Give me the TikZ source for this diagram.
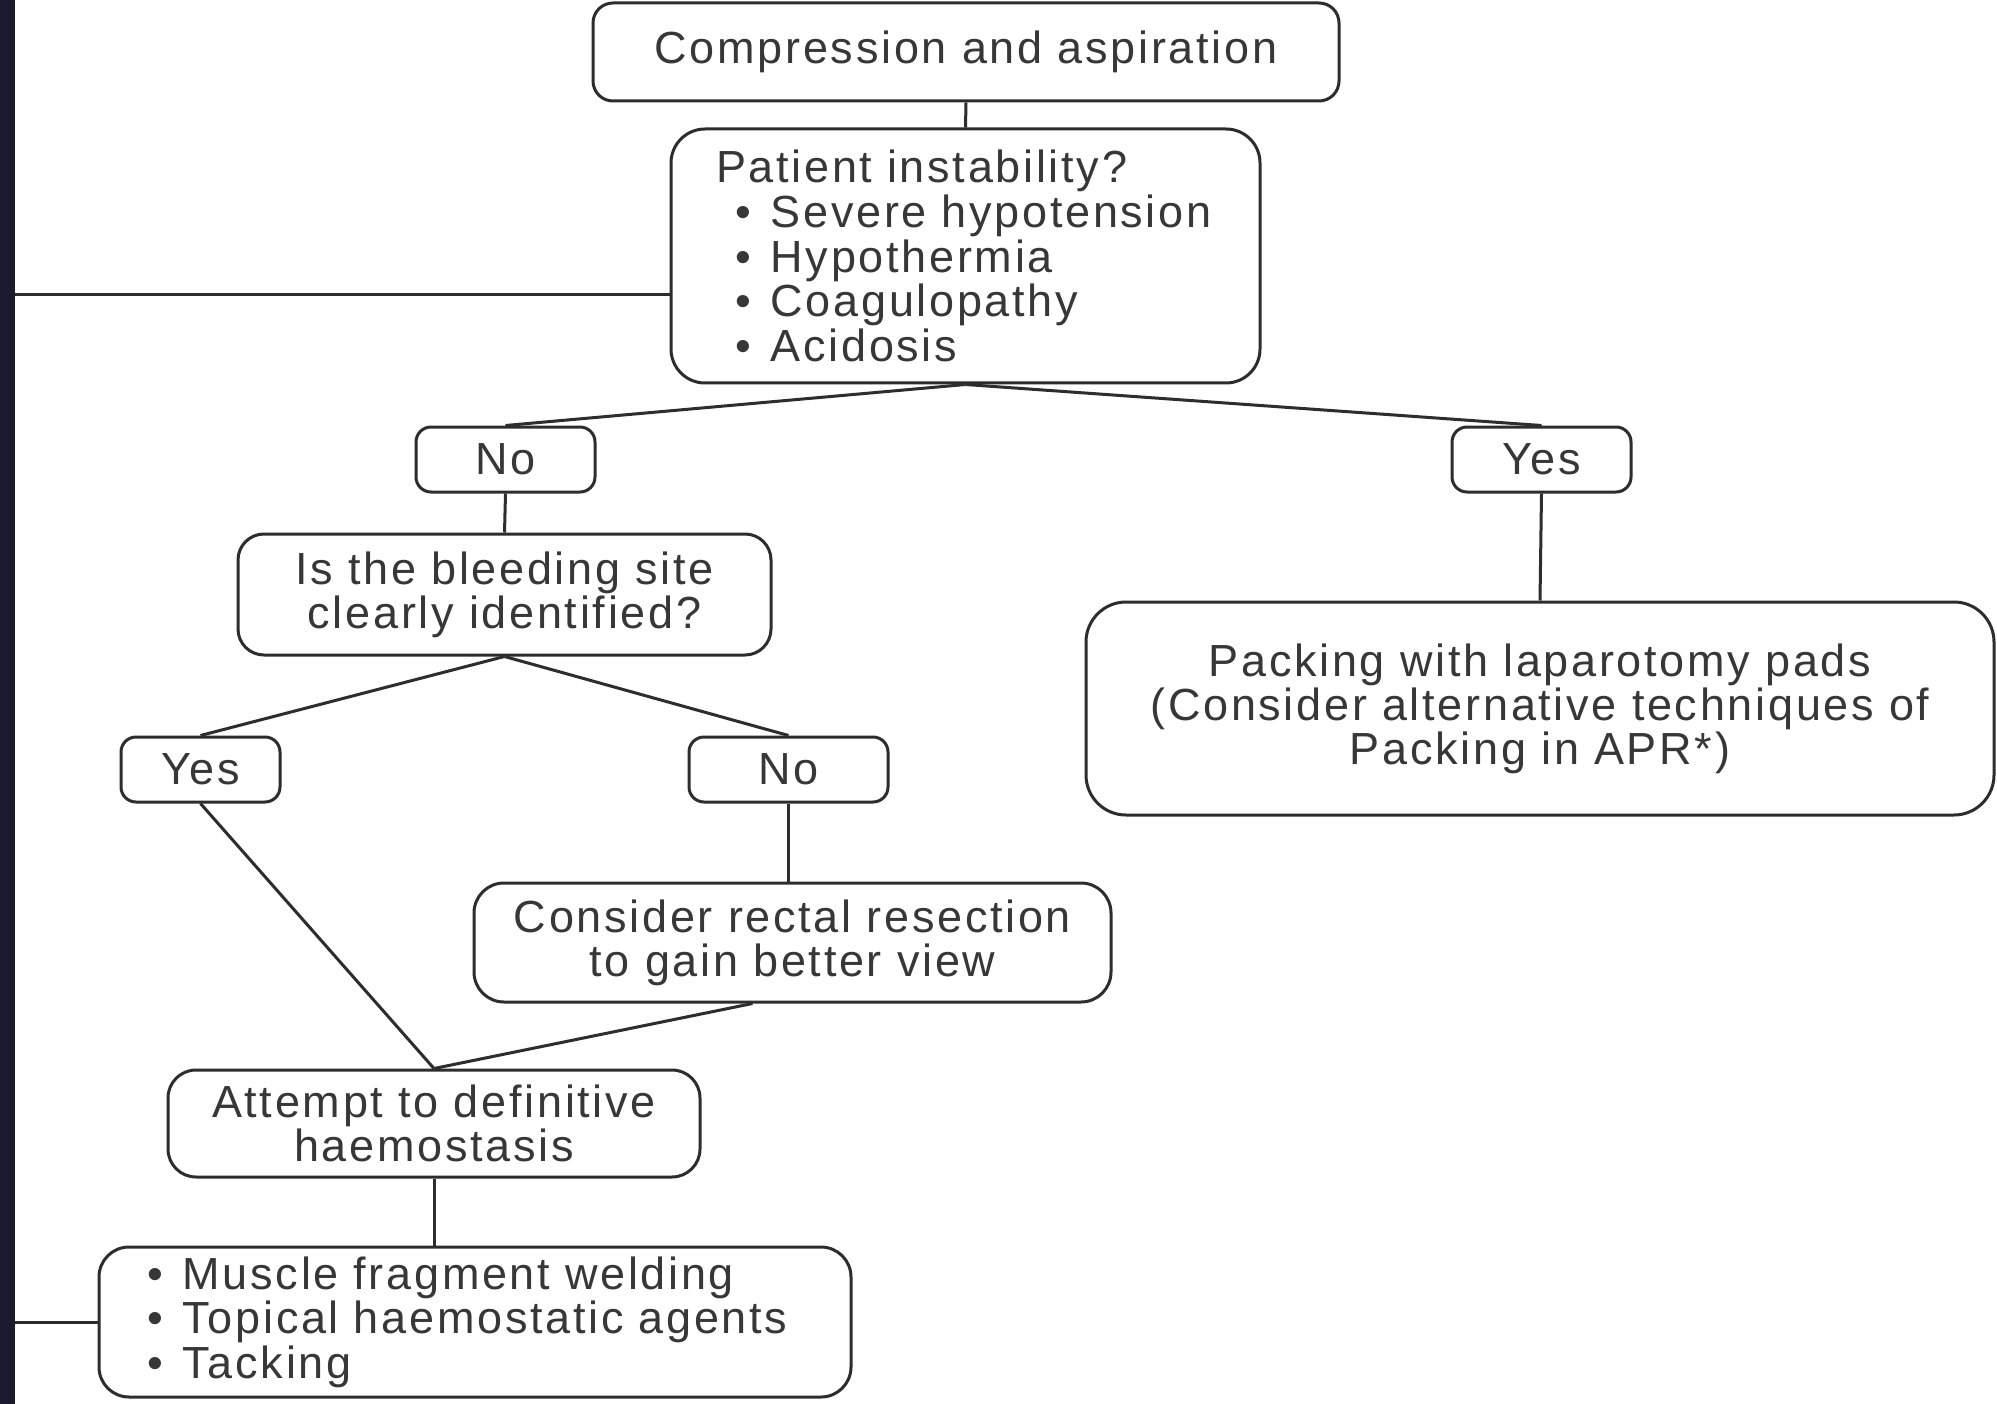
\documentclass[tikz,border=0pt]{standalone}
\usepackage{fontspec}
\setmainfont{Liberation Sans}[LetterSpace=6]
\definecolor{strip}{RGB}{27,26,46}
\definecolor{ink}{RGB}{55,55,55}
\definecolor{linec}{RGB}{45,45,45}
\newcommand{\bul}{\textbullet\hspace{20pt}}
\begin{document}
\begin{tikzpicture}[x=1pt,y=-1pt,
  box/.style={draw=linec, line width=3pt, rounded corners=#1, inner sep=0pt, align=center,
    text=ink, font=\fontsize{45}{44}\selectfont},
  box/.default=18pt,
  conn/.style={draw=linec, line width=3pt}]
\useasboundingbox (0,0) rectangle (1997,1404);
\fill[white] (0,0) rectangle (1997,1404);
\fill[strip] (0,0) rectangle (15,1404);

\node[box=20pt, minimum width=746pt, minimum height=98pt] (comp) at (966,52) {Compression and aspiration};
\node[box=34pt, minimum width=589pt, minimum height=254pt, text width=499pt, align=left, font=\fontsize{45}{44.6}\selectfont] (pat) at (965.5,256)
  {Patient instability?\\
   \hspace*{19pt}\bul Severe hypotension\\
   \hspace*{19pt}\bul Hypothermia\\
   \hspace*{19pt}\bul Coagulopathy\\
   \hspace*{19pt}\bul Acidosis};
\node[box=15pt, minimum width=179pt, minimum height=65pt] (no1) at (505.5,459.5) {No};
\node[box=15pt, minimum width=179pt, minimum height=65pt] (yes1) at (1541.5,459.5) {Yes};
\node[box=26pt, minimum width=533pt, minimum height=121pt] (bleed) at (504.5,594.5) {Is the bleeding site\\clearly identified?};
\node[box=15pt, minimum width=159pt, minimum height=65pt] (yes2) at (200.5,769.5) {Yes};
\node[box=15pt, minimum width=199pt, minimum height=65pt] (no2) at (788.5,769.5) {No};
\node[box=30pt, minimum width=637pt, minimum height=119pt] (cons) at (792.5,942.5) {Consider rectal resection\\to gain better view};
\node[box=28pt, minimum width=532pt, minimum height=107pt] (att) at (434,1123.5) {Attempt to definitive\\haemostasis};
\node[box=30pt, minimum width=752pt, minimum height=150pt, text width=656pt, align=left, font=\fontsize{45}{44.6}\selectfont] (mus) at (475,1322)
  {\bul Muscle fragment welding\\
   \bul Topical haemostatic agents\\
   \bul Tacking};
\node[box=40pt, minimum width=908pt, minimum height=213pt] (pack) at (1540,708.5)
  {Packing with laparotomy pads\\(Consider alternative techniques of\\Packing in APR*)};

\coordinate (pl) at (15,295);
\coordinate (ml) at (15,1322);

\draw[conn] (comp.south) -- (pat.north);
\draw[conn] (pat.south) -- (no1.north);
\draw[conn] (pat.south) -- (yes1.north);
\draw[conn] (no1.south) -- (bleed.north);
\draw[conn] (yes1.south) -- (pack.north);
\draw[conn] (bleed.south) -- (yes2.north);
\draw[conn] (bleed.south) -- (no2.north);
\draw[conn] (no2.south) -- (no2.south |- cons.north);
\draw[conn] (yes2.south) -- (att.north);
\draw[conn] ([xshift=-40pt]cons.south) -- (att.north);
\draw[conn] (att.south) -- (att.south |- mus.north);
\draw[conn] (pl) -- (pl -| pat.west);
\draw[conn] (ml) -- (mus.west);
\end{tikzpicture}
\end{document}
